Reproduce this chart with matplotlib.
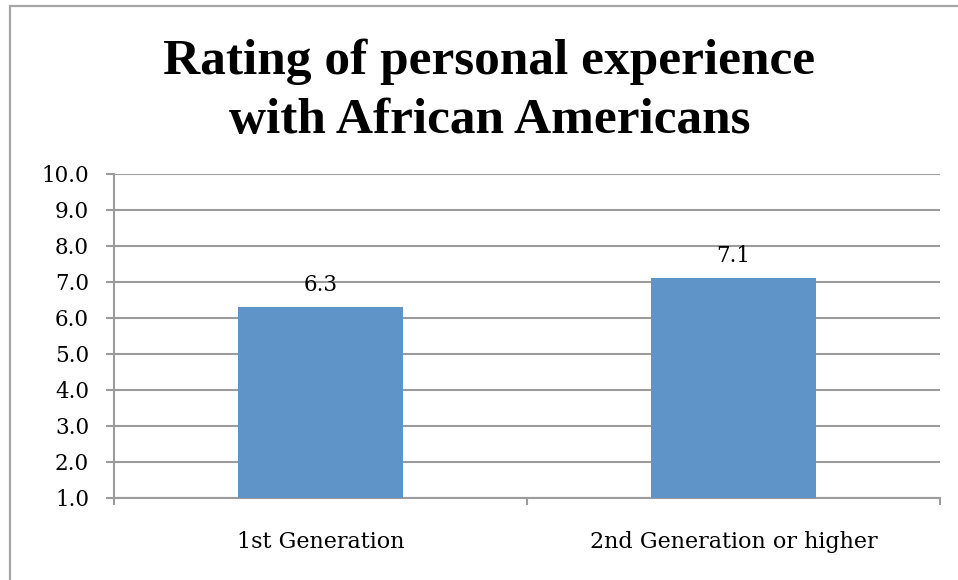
import matplotlib.pyplot as plt
from matplotlib.patches import Rectangle

categories = ['1st Generation', '2nd Generation or higher']
ratings = [6.3, 7.1]
y_ticks = [1.0, 2.0, 3.0, 4.0, 5.0, 6.0, 7.0, 8.0, 9.0, 10.0]
title_lines = ['Rating of personal experience', 'with African Americans']

BAR_COLOR = '#5F94C8'
GRID_COLOR = '#9C9C9C'
plt.rcParams['font.family'] = ['DejaVu Serif']

fig = plt.figure(figsize=(9.58, 5.80), dpi=100)
ax = fig.add_axes([0.119, 0.1414, 0.862, 0.5586])

# outer frame of the chart object (only left and top edges fall inside)
fig.patches.append(Rectangle((10 / 958, -0.2), 1.2, 1.2 - 6 / 580,
                             transform=fig.transFigure, fill=False,
                             edgecolor='#A6A6A6', linewidth=1.6))

x = list(range(len(categories)))
ax.bar(x, [r - y_ticks[0] for r in ratings], bottom=y_ticks[0], width=0.4,
       color=BAR_COLOR, zorder=3)
for xi, r in zip(x, ratings):
    ax.annotate(f'{r:.1f}', (xi, r), xytext=(0, 12), textcoords='offset points',
                ha='center', va='baseline', fontsize=15.5, color='black')

ax.set_xlim(-0.5, len(categories) - 0.5)
ax.set_ylim(y_ticks[0], y_ticks[-1])
ax.set_yticks(y_ticks)
ax.set_yticklabels([f'{v:.1f}' for v in y_ticks], fontsize=15.5)
ax.set_xticks(x)
ax.set_xticklabels(categories, fontsize=16)
ax.set_xticks([i - 0.5 for i in range(len(categories) + 1)], minor=True)
ax.tick_params(axis='x', which='major', length=0, pad=24)
ax.tick_params(axis='x', which='minor', length=5, width=1.5,
               color=GRID_COLOR, direction='out')
ax.tick_params(axis='y', length=6, width=1.5, color=GRID_COLOR, pad=12)

ax.grid(axis='y', color=GRID_COLOR, linewidth=1.5, zorder=0)
ax.set_axisbelow(True)
for side in ('top', 'right'):
    ax.spines[side].set_visible(False)
for side in ('left', 'bottom'):
    ax.spines[side].set_color(GRID_COLOR)
    ax.spines[side].set_linewidth(1.5)

for line, y in zip(title_lines, (1 - 74 / 580, 1 - 133 / 580)):
    fig.text(0.511, y, line, ha='center', va='baseline', fontsize=37,
             fontweight='bold', family='Liberation Serif')

fig.savefig('out.png', dpi=100)
